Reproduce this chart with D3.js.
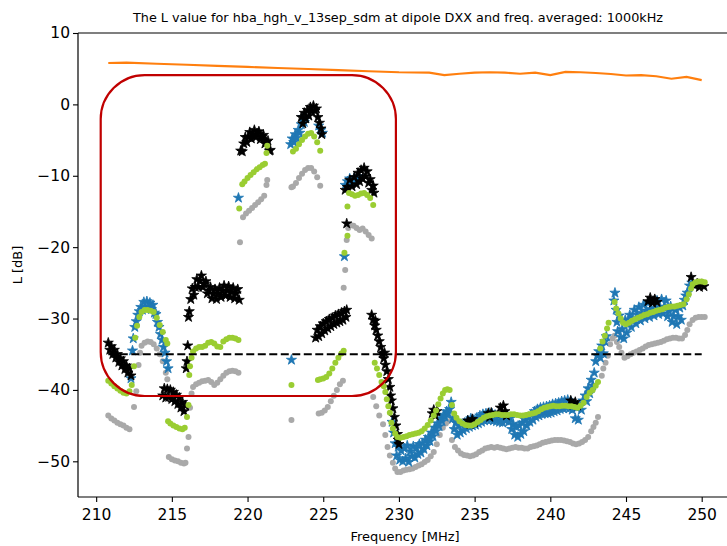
<!DOCTYPE html>
<html><head><meta charset="utf-8">
<script src="https://cdn.jsdelivr.net/npm/d3@7"></script>
<style>body{margin:0;background:#fff}svg{display:block}text{font-family:"DejaVu Sans",sans-serif}</style>
</head><body>
<script>
const title = "The L value for hba_hgh_v_13sep_sdm at dipole DXX and freq. averaged: 1000kHz";
const xLabel = "Frequency [MHz]";
const yLabel = "L [dB]";
const xTicks = [210,215,220,225,230,235,240,245,250];
const yTicks = [10,0,-10,-20,-30,-40,-50];
const threshold = -35;
const thresholdRange = [210.8, 250.0];
const highlightBox = {f0:210.3, f1:229.8, top:4.1, bottom:-40.85};

const orangeLine = [[210.8,5.8],[212,5.85],[214,5.7],[216,5.55],[218,5.4],[220,5.25],[222,5.1],[224,4.95],[226,4.8],[228,4.65],[230,4.5],[232,4.45],[233,4.1],[234,4.3],[235,4.45],[236,4.5],[237,4.45],[238,4.3],[239,4.45],[240,4.1],[241,4.55],[242,4.5],[243,4.4],[244,4.25],[245,4.05],[246,4.1],[247,3.95],[248,3.6],[249,3.85],[250,3.4]];

const grayPts = [[210.8,-43.6],[211.0,-44.0],[211.2,-44.3],[211.4,-44.6],[211.6,-44.8],[211.8,-45.0],[212.0,-45.3],[212.2,-45.5],
[212.5,-42.4],[212.65,-40.2],[212.8,-36.5],[212.9,-34.8],[213.0,-33.8],[213.2,-33.4],[213.4,-33.2],[213.6,-33.3],[213.8,-33.6],[214.0,-34.2],[214.2,-35.0],[214.4,-36.0],[214.6,-37.6],[214.7,-38.5],
[214.8,-49.4],[215.0,-49.7],[215.2,-49.9],[215.4,-50.0],[215.6,-50.2],[215.8,-50.3],[215.9,-50.2],[216.0,-48.2],[216.1,-46.6],[216.2,-42.5],[216.3,-40.5],[216.4,-39.6],[216.6,-39.2],[216.8,-39.0],[217.0,-38.8],[217.2,-38.7],[217.4,-38.6],[217.6,-38.9],[217.8,-39.3],[218.0,-39.0],[218.2,-38.5],[218.4,-38.0],[218.6,-37.6],[218.8,-37.4],[219.0,-37.3],[219.2,-37.4],[219.4,-37.6],
[219.5,-19.3],[219.7,-15.8],[219.9,-15.3],[220.1,-14.9],[220.3,-14.5],[220.5,-14.1],[220.7,-13.7],[220.9,-13.3],[221.1,-12.8],[221.25,-11.3],[221.3,-10.6],
[222.9,-44.2],[222.9,-11.6],[223.0,-11.5],[223.2,-11.0],[223.4,-10.3],[223.6,-9.7],[223.8,-9.2],[224.0,-8.9],[224.2,-8.9],[224.4,-9.4],[224.6,-10.2],[224.8,-11.4],
[224.7,-43.3],[224.9,-43.2],[225.1,-42.9],[225.3,-42.4],[225.5,-41.6],[225.7,-40.8],[225.9,-40.0],[226.1,-39.2],[226.3,-38.7],
[226.35,-25.7],[226.45,-23.2],[226.55,-19.0],[226.65,-17.3],[226.8,-16.9],[227.0,-17.0],[227.2,-17.3],[227.4,-17.6],[227.6,-17.4],[227.8,-17.8],[228.0,-18.3],[228.2,-18.8],
[228.3,-41.0],[228.5,-42.3],[228.7,-43.6],[228.95,-44.8],[229.1,-46.3],[229.25,-48.0],[229.4,-49.2],[229.6,-50.2],[229.75,-51.0],[229.9,-51.5],[230.1,-51.5],[230.3,-51.3],[230.5,-51.2],[230.7,-51.1],[230.9,-51.0],[231.1,-50.8],[231.3,-50.6],[231.5,-50.4],[231.7,-50.1],[231.9,-49.8],[232.1,-49.3],[232.3,-48.7],[232.5,-47.6],[232.7,-46.3],[232.9,-45.3],[233.1,-44.7],[233.25,-44.4],
[233.5,-47.0],[233.7,-48.0],[233.9,-48.5],[234.1,-48.9],[234.3,-49.1],[234.5,-49.2],[234.7,-49.3],[234.9,-49.2],[235.1,-49.0],[235.3,-48.7],[235.5,-48.5],[235.7,-48.2],[235.9,-48.1],[236.1,-48.0],[236.3,-48.1],[236.5,-48.0],[236.7,-48.1],[236.9,-48.2],[237.1,-48.3],[237.3,-48.2],[237.5,-48.1],[237.7,-48.0],[237.9,-48.1],[238.1,-48.1],[238.3,-48.2],[238.5,-48.2],[238.7,-48.0],[238.9,-47.9],[239.1,-47.8],[239.3,-47.6],[239.5,-47.4],[239.7,-47.3],[239.9,-47.2],[240.1,-47.1],[240.3,-47.0],[240.5,-47.0],[240.7,-47.0],[240.9,-47.1],[241.1,-47.2],[241.3,-47.3],[241.5,-47.5],[241.7,-47.6],[241.9,-47.5],[242.1,-47.3],[242.3,-47.0],[242.5,-46.6],[242.7,-45.8],[242.85,-45.2],[243.0,-44.6],[243.15,-43.8],
[243.4,-38.0],[243.5,-37.0],[243.65,-36.2],[243.8,-35.2],[243.95,-33.6],[244.1,-32.8],[244.25,-32.4],[244.4,-33.3],[244.55,-34.0],[244.7,-34.8],[244.9,-35.5],[245.1,-35.3],[245.3,-35.0],[245.5,-34.8],[245.7,-34.6],[245.9,-34.4],[246.1,-34.2],[246.3,-33.9],[246.5,-33.7],[246.7,-33.6],[246.9,-33.5],[247.1,-33.4],[247.3,-33.3],[247.5,-33.1],[247.7,-32.9],[247.9,-32.8],[248.1,-32.7],[248.3,-32.7],[248.5,-32.8],[248.7,-32.8],[248.9,-32.3],[249.05,-31.6],[249.2,-30.8],[249.4,-30.2],[249.6,-29.9],[249.8,-29.8],[250.0,-29.8],[250.2,-29.8]];

const greenPts = [[210.8,-38.7],[211.0,-39.1],[211.2,-39.5],[211.4,-39.8],[211.6,-40.1],[211.8,-40.4],[212.0,-40.5],[212.2,-40.2],[212.35,-39.3],
[212.5,-36.7],[212.58,-32.7],[212.7,-31.0],[212.85,-29.8],[213.0,-29.1],[213.2,-28.8],[213.4,-28.8],[213.6,-28.9],[213.8,-29.1],[214.0,-29.9],[214.2,-30.9],[214.4,-31.9],[214.6,-33.0],[214.7,-33.5],
[214.75,-44.4],[214.9,-44.7],[215.1,-45.0],[215.3,-45.2],[215.5,-45.4],[215.7,-45.5],[215.85,-45.3],[216.0,-43.8],[216.1,-42.1],
[216.15,-37.9],[216.2,-36.7],[216.3,-35.5],[216.4,-34.6],[216.6,-34.2],[216.8,-34.0],[217.0,-34.0],[217.2,-33.8],[217.4,-33.4],[217.6,-33.3],[217.8,-33.5],[218.0,-33.9],[218.2,-34.0],[218.4,-33.2],[218.6,-32.9],[218.8,-32.7],[219.0,-32.7],[219.2,-32.8],[219.4,-33.0],
[219.45,-14.6],[219.65,-11.2],[219.8,-10.8],[220.0,-10.3],[220.2,-9.9],[220.4,-9.5],[220.6,-9.1],[220.8,-8.8],[221.0,-8.5],[221.15,-8.3],[221.25,-6.8],[221.3,-5.8],
[222.9,-39.3],[223.0,-6.6],[223.2,-6.2],[223.4,-5.6],[223.6,-5.0],[223.8,-4.5],[224.0,-4.1],[224.2,-4.0],[224.4,-4.5],[224.6,-5.3],[224.8,-6.5],
[224.65,-38.6],[224.8,-38.5],[225.0,-38.4],[225.2,-38.2],[225.4,-37.7],[225.6,-37.0],[225.8,-36.2],[226.0,-35.5],[226.2,-34.9],[226.35,-34.5],
[226.4,-20.8],[226.6,-18.4],[226.6,-14.3],[226.7,-12.4],[226.9,-12.6],[227.1,-12.8],[227.3,-12.7],[227.5,-12.5],[227.7,-12.4],[227.9,-12.7],[228.1,-13.1],[228.3,-14.1],
[228.4,-36.2],[228.55,-37.0],[228.7,-37.9],[228.85,-38.9],[229.0,-39.5],[229.1,-40.3],[229.2,-41.3],[229.3,-42.3],[229.4,-43.2],[229.5,-44.6],[229.6,-45.4],[229.75,-46.1],[229.9,-46.6],[230.1,-46.7],[230.3,-46.6],[230.5,-46.5],[230.7,-46.3],[230.9,-46.2],[231.1,-46.1],[231.3,-46.0],[231.5,-45.8],[231.7,-45.4],[231.9,-44.9],[232.1,-44.3],[232.3,-43.6],[232.45,-42.9],[232.6,-42.0],[232.75,-41.2],[232.9,-40.5],[233.05,-40.0],[233.2,-39.9],[233.35,-40.0],
[233.5,-42.1],[233.65,-43.3],[233.8,-43.9],[234.0,-44.4],[234.2,-44.7],[234.4,-44.9],[234.6,-45.0],[234.8,-45.0],[235.0,-44.8],[235.2,-44.5],[235.4,-44.2],[235.6,-43.9],[235.8,-43.7],[236.0,-43.6],[236.2,-43.5],[236.4,-43.4],[236.6,-43.4],[236.8,-43.5],[237.0,-43.5],[237.2,-43.5],[237.4,-43.4],[237.6,-43.4],[237.8,-43.5],[238.0,-43.6],[238.2,-43.6],[238.4,-43.5],[238.6,-43.4],[238.8,-43.3],[239.0,-43.2],[239.2,-43.0],[239.4,-42.7],[239.6,-42.5],[239.8,-42.4],[240.0,-42.3],[240.2,-42.2],[240.4,-42.3],[240.6,-42.3],[240.8,-42.2],[241.0,-42.2],[241.2,-42.3],[241.4,-42.3],[241.6,-42.4],[241.8,-42.5],[242.0,-42.2],[242.2,-41.8],[242.4,-41.0],[242.6,-40.4],[242.8,-40.0],[243.0,-39.4],[243.15,-38.9],
[243.3,-34.2],[243.45,-33.2],[243.6,-32.4],[243.75,-31.4],[243.85,-30.6],
[244.25,-27.7],[244.35,-28.6],[244.5,-29.3],[244.65,-30.0],[244.8,-30.6],[245.0,-30.8],[245.2,-30.6],[245.4,-30.3],[245.6,-30.1],[245.8,-29.9],[246.0,-29.7],[246.2,-29.5],[246.4,-29.4],[246.6,-29.2],[246.8,-29.1],[247.0,-28.9],[247.2,-28.8],[247.4,-28.7],[247.6,-28.5],[247.8,-28.4],[248.0,-28.3],[248.2,-28.3],[248.4,-28.2],[248.6,-28.1],[248.8,-28.0],[249.0,-27.3],[249.15,-26.6],[249.3,-25.8],[249.4,-25.2],[249.6,-24.9],[249.8,-24.8],[250.0,-24.8],[250.2,-24.9]];

const bluePts = [[212.3,-38.4],[212.4,-34.5],[212.45,-32.8],[212.55,-31.2],[212.65,-30.4],[212.75,-29.5],[212.85,-29.0],[212.95,-28.4],[213.05,-28.8],[213.15,-27.7],[213.25,-28.5],[213.35,-27.6],[213.45,-28.4],[213.55,-27.8],[213.65,-28.7],[213.75,-28.1],[213.85,-29.2],[213.95,-29.4],[214.05,-30.5],[214.15,-31.2],[214.25,-32.2],[214.35,-33.0],[214.45,-34.0],[214.55,-34.8],[214.65,-36.0],[214.75,-37.0],
[219.4,-13.1],
[222.9,-35.8],[222.85,-5.6],[222.95,-4.8],[223.05,-5.3],[223.15,-4.2],[223.25,-4.7],[223.35,-3.6],[223.45,-4.0],[223.55,-2.8],[223.65,-1.8],[223.75,-2.5],[223.85,-1.9],[224.7,-3.0],[224.85,-3.6],[224.95,-4.0],
[226.4,-21.3],[226.45,-11.3],[226.6,-10.8],[226.75,-10.4],[226.9,-11.0],[227.05,-10.3],[227.2,-10.6],[227.35,-10.1],
[229.55,-44.5],[229.65,-46.0],[229.75,-47.5],[229.85,-49.2],[229.95,-48.0],[230.05,-49.8],[230.15,-48.5],[230.25,-50.0],[230.35,-48.2],[230.45,-49.6],[230.55,-47.8],[230.65,-50.1],[230.75,-48.6],[230.85,-49.3],[230.95,-47.9],[231.05,-49.5],[231.15,-48.2],[231.25,-49.0],[231.35,-47.6],[231.45,-48.8],[231.55,-47.5],[231.65,-48.3],[231.75,-47.0],[231.85,-47.8],[231.95,-46.6],[232.05,-47.2],[232.15,-46.0],[232.25,-46.5],[232.35,-45.3],[232.45,-45.8],[232.55,-44.7],[232.65,-45.1],[232.75,-44.0],[232.85,-44.4],[232.95,-43.5],[233.05,-43.8],[233.15,-43.0],[233.25,-43.3],[233.35,-42.7],[233.45,-41.7],
[233.55,-44.0],[233.65,-45.5],[233.75,-44.6],[233.85,-46.3],[233.95,-45.0],[234.05,-46.0],[234.15,-44.8],[234.25,-45.7],[234.35,-44.6],[234.45,-45.4],[234.55,-44.3],[234.65,-45.2],[234.75,-44.0],[234.85,-45.0],[234.95,-44.2],[235.05,-44.9],[235.15,-43.9],[235.25,-44.7],[235.35,-43.6],[235.45,-44.5],[235.55,-43.4],[235.65,-44.3],[235.75,-43.3],[235.85,-44.2],[235.95,-43.2],[236.05,-44.2],[236.15,-43.3],[236.25,-44.3],[236.35,-43.5],[236.45,-44.4],[236.55,-43.6],[236.65,-44.5],[236.75,-43.8],[236.85,-44.6],[236.95,-43.7],[237.05,-44.3],[237.15,-43.5],[237.25,-44.5],[237.35,-44.0],[237.45,-45.5],[237.55,-44.8],[237.65,-46.3],[237.75,-45.2],[237.85,-46.6],[237.95,-45.0],[238.05,-46.2],[238.15,-44.6],[238.25,-45.8],[238.35,-44.2],[238.45,-45.0],[238.55,-43.8],[238.65,-44.5],[238.75,-43.4],[238.85,-44.2],[238.95,-43.0],[239.05,-43.8],[239.15,-42.7],[239.25,-43.6],[239.35,-42.5],[239.45,-43.4],[239.55,-42.4],[239.65,-43.3],[239.75,-42.3],[239.85,-43.3],[239.95,-42.2],[240.05,-43.2],[240.15,-42.0],[240.25,-43.0],[240.35,-41.9],[240.45,-42.9],[240.55,-41.8],[240.65,-42.7],[240.75,-41.6],[240.85,-42.6],[240.95,-41.5],[241.05,-42.5],[241.15,-41.4],[241.25,-42.6],[241.35,-41.6],[241.45,-42.8],[241.55,-42.0],[241.65,-44.0],[241.75,-42.5],[241.85,-44.2],[241.95,-42.3],[242.05,-42.8],
[242.15,-41.5],[242.3,-40.8],[242.4,-41.6],[242.5,-39.8],[242.6,-40.5],[242.7,-38.6],[242.8,-39.4],[242.9,-37.6],[243.0,-36.0],[243.1,-35.2],[243.2,-34.6],[243.3,-35.5],[243.4,-33.8],[243.5,-34.9],[243.6,-33.2],[243.7,-32.5],
[244.2,-27.5],[244.27,-26.4],[244.35,-28.8],[244.4,-30.5],[244.45,-31.8],[244.55,-29.6],[244.65,-32.6],[244.75,-31.5],[244.85,-32.8],
[244.95,-30.2],[245.05,-32.0],[245.15,-30.7],[245.25,-29.5],[245.35,-31.2],[245.45,-30.0],[245.55,-28.8],[245.65,-30.7],[245.75,-29.5],[245.85,-28.4],[245.95,-30.3],[246.05,-29.2],[246.15,-28.1],[246.25,-30.0],[246.35,-28.9],[246.45,-27.8],[246.55,-29.8],[246.65,-28.7],[246.75,-27.7],[246.85,-29.6],[246.95,-28.5],[247.05,-27.5],[247.15,-29.4],[247.25,-28.4],[247.35,-27.3],[247.45,-29.3],[247.55,-28.4],[247.65,-27.5],[247.75,-29.7],[247.85,-29.0],[247.95,-28.3],[248.05,-30.5],[248.15,-29.7],[248.25,-28.8],[248.35,-30.8],[248.45,-29.7],[248.55,-28.5],[248.65,-30.2],[248.75,-28.2],[248.85,-27.4],[248.95,-26.8],[249.05,-26.4],[249.2,-25.4],[249.35,-25.0]];

const blackPts = [[210.8,-33.4],[210.9,-34.4],[211.0,-33.9],[211.1,-35.0],[211.2,-34.4],[211.3,-35.5],[211.4,-35.0],[211.5,-36.1],[211.6,-35.6],[211.7,-36.6],[211.8,-36.0],[211.9,-37.1],[212.0,-36.6],[212.1,-37.6],[212.2,-37.0],[212.3,-38.0],
[214.4,-40.8],[214.5,-39.8],[214.6,-41.1],[214.7,-39.9],[214.8,-41.0],[214.9,-40.0],[215.0,-41.3],[215.1,-40.3],[215.2,-41.6],[215.3,-40.7],[215.4,-42.0],[215.5,-41.1],[215.6,-42.5],[215.7,-41.7],[215.8,-43.0],[215.9,-42.2],
[215.95,-37.0],[216.0,-36.0],[216.05,-33.8],[216.1,-29.8],[216.15,-29.0],
[216.25,-27.3],[216.35,-25.8],[216.45,-26.7],[216.55,-25.6],[216.65,-24.5],[216.75,-25.6],[216.85,-24.7],[216.95,-24.0],[217.05,-25.6],[217.15,-25.2],[217.25,-24.8],[217.35,-26.5],[217.45,-26.1],[217.55,-25.6],[217.65,-27.2],[217.75,-26.6],[217.85,-25.9],[217.95,-27.3],[218.05,-26.5],[218.15,-25.7],[218.25,-27.0],[218.35,-26.2],[218.45,-25.4],[218.55,-26.8],[218.65,-26.1],[218.75,-25.5],[218.85,-27.0],[218.95,-26.3],[219.05,-25.7],[219.15,-27.2],[219.25,-26.5],[219.35,-25.9],[219.45,-27.4],
[219.55,-6.5],[219.65,-6.6],[219.75,-5.5],[219.85,-4.6],[219.95,-5.3],[220.05,-4.6],[220.15,-3.9],[220.25,-4.8],[220.35,-4.2],[220.45,-3.6],[220.55,-4.6],[220.65,-4.2],[220.75,-3.8],[220.85,-4.9],[220.95,-4.6],[221.05,-4.3],[221.15,-5.5],[221.25,-5.3],[221.35,-5.1],[221.45,-6.5],[221.5,-6.4],
[223.55,-1.8],[223.65,-2.7],[223.75,-1.2],[223.85,-2.0],[223.95,-0.8],[224.05,-1.6],[224.15,-0.4],[224.25,-1.0],[224.35,-0.2],[224.45,-0.9],[224.55,-0.6],[224.65,-1.8],[224.75,-2.6],[224.85,-3.4],[224.9,-4.2],
[224.5,-32.7],[224.6,-31.6],[224.7,-32.5],[224.8,-31.1],[224.9,-32.1],[225.0,-30.7],[225.1,-31.7],[225.2,-30.4],[225.3,-31.4],[225.4,-30.1],[225.5,-31.1],[225.6,-29.9],[225.7,-30.8],[225.8,-29.6],[225.9,-30.6],[226.0,-29.4],[226.1,-30.4],[226.2,-29.2],[226.3,-30.2],[226.4,-29.0],[226.5,-29.8],[226.55,-28.8],
[226.45,-12.0],[226.55,-16.7],[226.6,-11.6],[226.75,-10.6],[226.9,-11.5],[227.05,-10.2],[227.2,-11.2],[227.3,-9.6],[227.4,-10.8],[227.5,-9.2],[227.6,-10.4],[227.7,-8.9],[227.8,-10.1],[227.9,-9.4],[228.0,-11.0],[228.1,-10.5],[228.2,-12.0],[228.3,-11.4],[228.35,-12.4],
[228.2,-29.5],[228.3,-30.2],[228.4,-31.0],[228.45,-30.3],[228.5,-31.6],[228.6,-32.4],[228.7,-33.2],[228.8,-34.0],[228.9,-34.9],[229.0,-35.6],[229.05,-34.8],[229.1,-36.5],[229.2,-37.4],[229.3,-38.5],[229.4,-39.6],[229.45,-40.8],[229.5,-41.5],[229.6,-42.6],[229.7,-43.8],[229.8,-45.0],[229.9,-46.2],[229.95,-47.0],[230.0,-47.6],
[232.2,-43.3],[232.3,-42.8],[232.4,-43.6],[232.5,-43.0],
[234.55,-44.3],[234.7,-44.8],[234.85,-44.1],[235.0,-44.6],
[235.9,-43.3],[236.0,-43.8],[236.1,-43.2],
[236.7,-42.5],[236.8,-43.2],[236.9,-42.2],[237.0,-43.0],[237.1,-43.6],
[241.35,-41.5],[241.5,-42.1],[241.65,-41.7],[241.8,-42.2],
[246.45,-27.6],[246.6,-27.1],[246.75,-27.8],[246.9,-27.3],[247.05,-27.7],
[249.3,-24.2],[249.55,-25.4],[249.7,-25.1],[249.85,-25.6],[250.0,-25.2],[250.15,-25.5]];

const W = 727, H = 546;
const plot = {left:78, top:33, right:735, bottom:497};
const svg = d3.select("body").append("svg").attr("width", W).attr("height", H);
const x = d3.scaleLinear().domain([208.8, 252.2]).range([plot.left, plot.right]);
const y = d3.scaleLinear().domain([-55, 10]).range([plot.bottom, plot.top]);

svg.append("clipPath").attr("id","clip").append("rect")
  .attr("x", plot.left).attr("y", plot.top).attr("width", plot.right-plot.left).attr("height", plot.bottom-plot.top);

const g = svg.append("g").attr("clip-path","url(#clip)");
const starSym = d3.symbol().type(d3.symbolStar).size(32);

g.append("g").selectAll("circle").data(grayPts).join("circle")
  .attr("cx", d=>x(d[0])).attr("cy", d=>y(d[1])).attr("r", 3.0).attr("fill", "#a9a9a9");
g.append("g").selectAll("path").data(bluePts).join("path")
  .attr("transform", d=>`translate(${x(d[0])},${y(d[1])})`).attr("d", starSym)
  .attr("fill", "#1f77b4").attr("stroke","#1f77b4").attr("stroke-width",0.8).attr("stroke-linejoin","round");
g.append("g").selectAll("path").data(blackPts).join("path")
  .attr("transform", d=>`translate(${x(d[0])},${y(d[1])})`).attr("d", starSym)
  .attr("fill", "#000").attr("stroke","#000").attr("stroke-width",0.8).attr("stroke-linejoin","round");
g.append("g").selectAll("circle").data(greenPts).join("circle")
  .attr("cx", d=>x(d[0])).attr("cy", d=>y(d[1])).attr("r", 3.0).attr("fill", "#9acd32");

g.append("path").datum(orangeLine)
  .attr("d", d3.line().x(d=>x(d[0])).y(d=>y(d[1])))
  .attr("fill","none").attr("stroke","#ff7f0e").attr("stroke-width",2.1);

g.append("line").attr("x1", x(thresholdRange[0])).attr("x2", x(thresholdRange[1]))
  .attr("y1", y(threshold)).attr("y2", y(threshold))
  .attr("stroke","#000").attr("stroke-width",2.2).attr("stroke-dasharray","8,3.5");

g.append("rect").attr("x", x(highlightBox.f0)).attr("y", y(highlightBox.top))
  .attr("width", x(highlightBox.f1)-x(highlightBox.f0)).attr("height", y(highlightBox.bottom)-y(highlightBox.top))
  .attr("rx", 44).attr("ry", 44).attr("fill","none").attr("stroke","#c00000").attr("stroke-width",2.2);

// axes
const xAxis = svg.append("g").attr("transform",`translate(0,${plot.bottom})`)
  .call(d3.axisBottom(x).tickValues(xTicks).tickSize(5).tickSizeOuter(0).tickFormat(d3.format("d")));
const yAxis = svg.append("g").attr("transform",`translate(${plot.left},0)`)
  .call(d3.axisLeft(y).tickValues(yTicks).tickSize(5).tickSizeOuter(0).tickFormat(d=>d<0?"\u2212"+Math.abs(d):d));
[xAxis,yAxis].forEach(a=>{
  a.select(".domain").remove();
  a.selectAll(".tick line").attr("stroke","#000").attr("stroke-width",1.1);
  a.selectAll(".tick text").attr("fill","#000").style("font-size","15.5px").style("font-family","DejaVu Sans");
});
xAxis.selectAll(".tick text").attr("dy","0.95em");
yAxis.selectAll(".tick text").attr("x",-8);

// spines
svg.append("line").attr("x1",plot.left).attr("x2",plot.left).attr("y1",plot.top).attr("y2",plot.bottom).attr("stroke","#000").attr("stroke-width",1.2);
svg.append("line").attr("x1",plot.left).attr("x2",plot.right).attr("y1",plot.bottom).attr("y2",plot.bottom).attr("stroke","#000").attr("stroke-width",1.2);
svg.append("line").attr("x1",plot.left).attr("x2",plot.right).attr("y1",plot.top).attr("y2",plot.top).attr("stroke","#000").attr("stroke-width",1.2);

svg.append("text").attr("x", 398).attr("y", 22).attr("text-anchor","middle").style("font-size","12.8px").text(title);
svg.append("text").attr("x", 405).attr("y", 541).attr("text-anchor","middle").style("font-size","13px").text(xLabel);
svg.append("text").attr("transform",`translate(22,${(plot.top+plot.bottom)/2}) rotate(-90)`).attr("text-anchor","middle").style("font-size","13px").text(yLabel);
</script>
</body></html>
